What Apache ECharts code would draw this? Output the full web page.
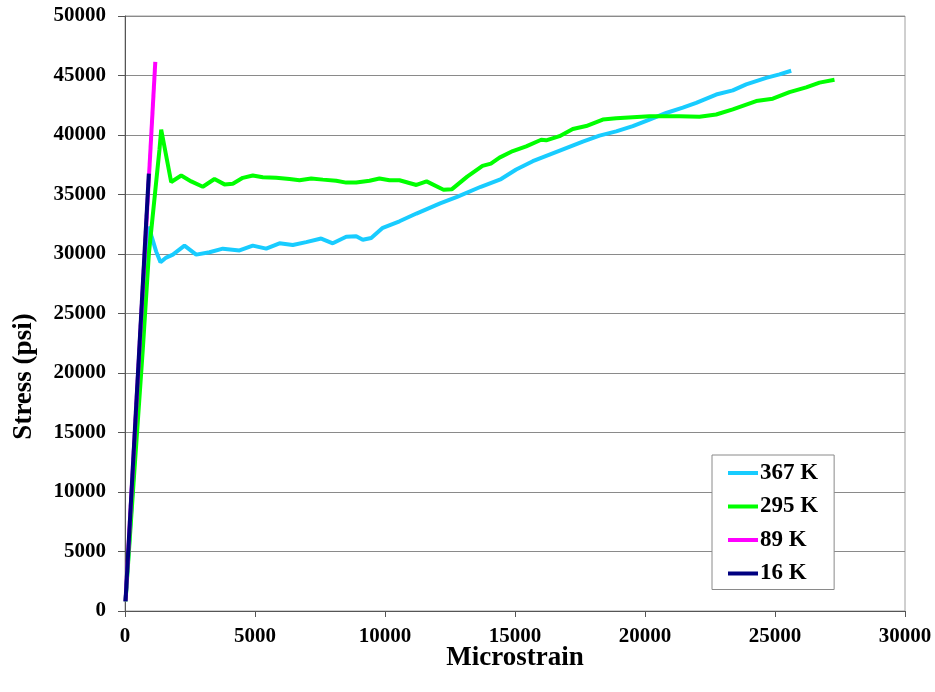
<!DOCTYPE html>
<html>
<head>
<meta charset="utf-8">
<script src="https://cdn.jsdelivr.net/npm/echarts@6/dist/echarts.min.js"></script>
<style>
html,body{margin:0;padding:0;background:#fff;}
#chart{width:935px;height:692px;}
</style>
</head>
<body>
<div id="chart"></div>
<script>
// ---- data (microstrain, stress psi) ----
const seriesNames = ['367 K', '295 K', '89 K', '16 K'];

const strain367 = [20, 400, 917, 1020, 1200, 1365, 1585, 1840, 2288, 2738, 3250, 3763, 4404, 4915, 5431, 5942, 6454, 6969, 7546, 7992, 8508, 8892, 9146, 9469, 9915, 10558, 11208, 12119, 12773, 13685, 14465, 15046, 15685, 16327, 16969, 17608, 18250, 18892, 19531, 20173, 20815, 21454, 21969, 22738, 23377, 23892, 24662, 25173, 25623];
const stress367 = [800, 14000, 32300, 31500, 30200, 29300, 29700, 29950, 30700, 29950, 30150, 30450, 30300, 30700, 30450, 30900, 30750, 31000, 31300, 30900, 31450, 31500, 31200, 31350, 32200, 32750, 33400, 34250, 34800, 35650, 36300, 37100, 37800, 38350, 38900, 39450, 39950, 40300, 40750, 41300, 41850, 42300, 42700, 43400, 43750, 44250, 44800, 45100, 45400];

const strain295 = [20, 330, 685, 917, 1150, 1327, 1392, 1777, 2162, 2546, 2992, 3442, 3827, 4146, 4531, 4915, 5300, 5815, 6327, 6712, 7162, 7608, 8123, 8508, 8892, 9404, 9788, 10173, 10558, 11208, 11600, 12250, 12577, 13162, 13750, 14073, 14404, 14915, 15431, 16008, 16200, 16712, 17223, 17738, 18377, 18892, 19531, 20173, 20815, 21327, 22096, 22738, 23377, 24277, 24915, 25558, 26200, 26712, 27288];
const stress295 = [800, 10800, 22000, 30000, 35000, 38800, 40450, 36050, 36600, 36100, 35650, 36300, 35850, 35900, 36400, 36600, 36450, 36400, 36300, 36200, 36350, 36250, 36150, 36000, 36000, 36150, 36350, 36200, 36200, 35800, 36100, 35400, 35450, 36500, 37400, 37600, 38100, 38650, 39050, 39600, 39550, 39900, 40500, 40750, 41300, 41400, 41500, 41580, 41580, 41580, 41530, 41720, 42150, 42850, 43050, 43600, 44000, 44400, 44650];

const strain89 = [20, 1165];
const stress89 = [820, 46150];

const strain16 = [20, 917];
const stress16 = [820, 36750];

const colors = ['#18CCFF', '#00FF00', '#FF00FF', '#000080'];

const xTicks = {min: 0, max: 30000, interval: 5000};
const yTicks = {min: 0, max: 50000, interval: 5000};

// ---- build ----
function pairs(xs, ys) { return xs.map((x, i) => [x, ys[i]]); }
const allData = [
  pairs(strain367, stress367),
  pairs(strain295, stress295),
  pairs(strain89, stress89),
  pairs(strain16, stress16)
];

const FONT = "'Liberation Serif', 'Times New Roman', serif";
const plain = v => String(v);

const chart = echarts.init(document.getElementById('chart'), null, {renderer: 'canvas'});
chart.setOption({
  animation: false,
  backgroundColor: '#ffffff',
  grid: {
    left: 125, top: 16, width: 780, height: 595,
    show: true, borderColor: '#a0a0a0', borderWidth: 1, backgroundColor: 'transparent'
  },
  xAxis: {
    type: 'value',
    min: xTicks.min, max: xTicks.max, interval: xTicks.interval,
    name: 'Microstrain',
    nameLocation: 'middle',
    nameGap: 34,
    nameMoveOverlap: false,
    nameTextStyle: {fontFamily: FONT, fontWeight: 'bold', fontSize: 27, color: '#000'},
    axisLine: {show: true, onZero: false, lineStyle: {color: '#555', width: 1}},
    axisTick: {show: true, inside: false, length: 6, lineStyle: {color: '#555'}},
    axisLabel: {fontFamily: FONT, fontWeight: 'bold', fontSize: 21, color: '#000', margin: 15, formatter: plain},
    splitLine: {show: false}
  },
  yAxis: {
    type: 'value',
    min: yTicks.min, max: yTicks.max, interval: yTicks.interval,
    name: 'Stress (psi)',
    nameLocation: 'middle',
    nameGap: 87,
    nameMoveOverlap: false,
    nameTextStyle: {fontFamily: FONT, fontWeight: 'bold', fontSize: 27, color: '#000', padding: [0, 126, 0, 0]},
    axisLine: {show: true, onZero: false, lineStyle: {color: '#555', width: 1}},
    axisTick: {show: true, inside: false, length: 7, lineStyle: {color: '#555'}},
    axisLabel: {fontFamily: FONT, fontWeight: 'bold', fontSize: 21, color: '#000', margin: 19, formatter: plain},
    splitLine: {show: true, lineStyle: {color: '#8a8a8a', width: 1}}
  },
  legend: {
    show: true,
    orient: 'vertical',
    left: 712, top: 455,
    data: seriesNames,
    icon: 'rect',
    itemWidth: 30, itemHeight: 4,
    itemGap: 9.5,
    padding: [6, 16, 4, 16],
    backgroundColor: '#ffffff',
    borderColor: '#8a8a8a',
    borderWidth: 1,
    borderRadius: 0,
    textStyle: {fontFamily: FONT, fontWeight: 'bold', fontSize: 23, color: '#000', lineHeight: 24, padding: [0, 0, 0, -3]}
  },
  series: seriesNames.map((n, i) => ({
    name: n,
    type: 'line',
    data: allData[i],
    showSymbol: false,
    symbol: 'none',
    smooth: false,
    z: 2 + i,
    lineStyle: {color: colors[i], width: 4},
    itemStyle: {color: colors[i]}
  }))
});
</script>
</body>
</html>
